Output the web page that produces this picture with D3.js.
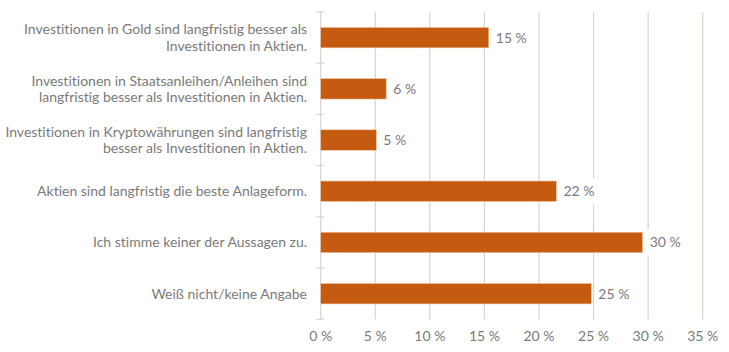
<!DOCTYPE html>
<html><head><meta charset="utf-8">
<script src="https://cdn.jsdelivr.net/npm/d3@7/dist/d3.min.js"></script>
<style>body{margin:0;background:#fff}svg{display:block}text{font-family:Lato,"Open Sans",sans-serif;fill:#7a7a7a;font-variant-ligatures:none;font-feature-settings:"liga" 0}</style>
</head><body>
<script>
const categories = [
  "Investitionen in Gold sind langfristig besser als\nInvestitionen in Aktien.",
  "Investitionen in Staatsanleihen/Anleihen sind\nlangfristig besser als Investitionen in Aktien.",
  "Investitionen in Kryptowährungen sind langfristig\nbesser als Investitionen in Aktien.",
  "Aktien sind langfristig die beste Anlageform.",
  "Ich stimme keiner der Aussagen zu.",
  "Weiß nicht/keine Angabe"
];
const values = [15.4, 6.0, 5.1, 21.6, 29.5, 24.8];
const xTicks = [0, 5, 10, 15, 20, 25, 30, 35];

const W = 729, H = 352;
const svg = d3.select("body").append("svg").attr("width", W).attr("height", H);
const x = d3.scaleLinear().domain([0, 35]).range([320.7, 702.7]);
const y = d3.scaleBand().domain(categories).range([12, 319.3]).paddingInner(0.6).paddingOuter(0.3);

// gridlines
svg.append("g").selectAll("line").data(xTicks.slice(1)).join("line")
  .attr("x1", d => x(d)).attr("x2", d => x(d))
  .attr("y1", 12).attr("y2", 319.3)
  .attr("stroke", "#d9d4ce").attr("stroke-width", 1.2);

// category axis line with crossing ticks
svg.append("line").attr("x1", x(0)).attr("x2", x(0)).attr("y1", 12).attr("y2", 319.3)
  .attr("stroke", "#d9d4ce").attr("stroke-width", 1.2);
const bounds = d3.range(categories.length + 1).map(i => 12 + i * (307.3 / categories.length));
svg.append("g").selectAll("line").data(bounds).join("line")
  .attr("x1", x(0) - 4.5).attr("x2", x(0) + 3.5)
  .attr("y1", d => d).attr("y2", d => d)
  .attr("stroke", "#d9d4ce").attr("stroke-width", 1.2);

// bars
svg.append("g").selectAll("rect").data(values).join("rect")
  .attr("x", x(0)).attr("y", (d, i) => y(categories[i]))
  .attr("width", d => x(d) - x(0)).attr("height", y.bandwidth())
  .attr("fill", "#c55a11").attr("stroke", "#f0c8a8").attr("stroke-width", 0.6);

// value labels with white background
const vl = svg.append("g").selectAll("g").data(values).join("g")
  .attr("transform", (d, i) => `translate(${x(d) + 7},${y(categories[i]) + y.bandwidth() / 2})`);
const vt = vl.append("text").attr("dy", "0.35em").attr("font-size", 14)
  .text(d => Math.round(d) + " %");
vl.each(function() {
  const g = d3.select(this);
  const bb = g.select("text").node().getBBox();
  g.insert("rect", "text").attr("x", bb.x - 3).attr("y", -13).attr("width", bb.width + 6).attr("height", 26).attr("fill", "#fff");
});

// category labels
const cl = svg.append("g").selectAll("text").data(categories).join("text")
  .attr("text-anchor", "end").attr("font-size", 14)
  .attr("transform", d => `translate(307,${y(d) + y.bandwidth() / 2})`);
cl.each(function(d) {
  const lines = d.split("\n");
  const t = d3.select(this);
  const lh = 16.4;
  lines.forEach((ln, k) => {
    t.append("tspan").attr("x", 0).attr("y", (k - (lines.length - 1) / 2) * lh).attr("dy", "0.35em").text(ln);
  });
});

// x tick labels
svg.append("g").selectAll("text").data(xTicks).join("text")
  .attr("x", d => x(d)).attr("y", 336).attr("dy", "0.35em")
  .attr("text-anchor", "middle").attr("font-size", 14)
  .text(d => d + " %");
</script>
</body></html>
